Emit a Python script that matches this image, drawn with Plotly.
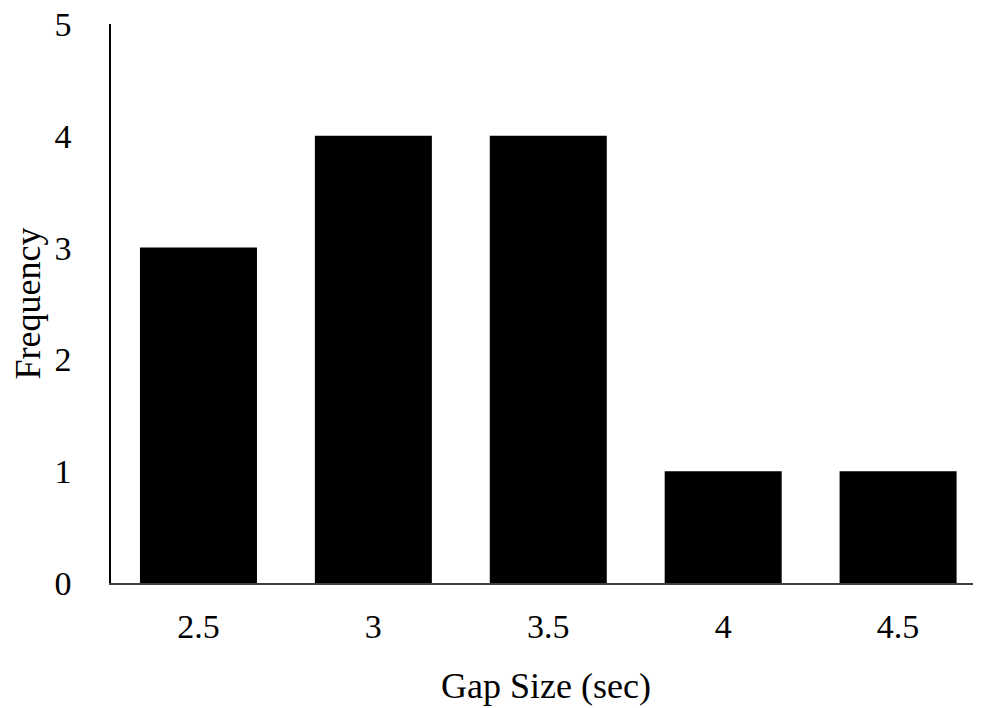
import plotly.graph_objects as go

categories = ["2.5", "3", "3.5", "4", "4.5"]
frequency = [3, 4, 4, 1, 1]
y_ticks = [0, 1, 2, 3, 4, 5]

FONT = "Liberation Serif"

fig = go.Figure(go.Bar(x=categories, y=frequency, marker=dict(color="black", line=dict(width=0))))

fig.update_layout(
    width=981, height=708,
    margin=dict(l=103, r=8, t=16, b=133),
    paper_bgcolor="white", plot_bgcolor="white",
    bargap=0.331,
    showlegend=False,
    font=dict(family=FONT, color="black"),
)
fig.update_xaxes(
    type="category", range=[-0.5, 4.474], automargin=False,
    showline=True, linecolor="#404040", linewidth=1.5,
    showgrid=False, ticks="", ticklabelstandoff=12,
    tickfont=dict(family=FONT, size=34, color="black"),
    title=dict(text="Gap Size (sec)", font=dict(family=FONT, size=36, color="black"), standoff=29),
)
fig.update_yaxes(
    range=[0, 5], tickvals=y_ticks, automargin=False,
    ticklabeloverflow="allow",
    showline=True, linecolor="black", linewidth=1.5,
    showgrid=False, zeroline=False, ticks="", ticklabelstandoff=31,
    tickfont=dict(family=FONT, size=34, color="black"),
    title=dict(text="Frequency", font=dict(family=FONT, size=36, color="black"), standoff=8),
)

fig.write_html("out.html")
